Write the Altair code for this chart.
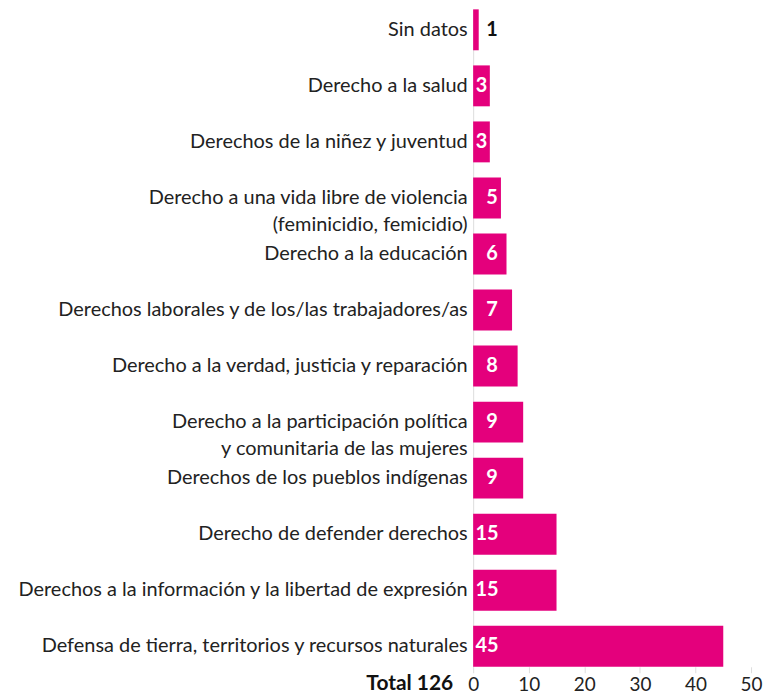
import altair as alt
import pandas as pd

categories = [
    "Sin datos",
    "Derecho a la salud",
    "Derechos de la niñez y juventud",
    "Derecho a una vida libre de violencia|(feminicidio, femicidio)",
    "Derecho a la educación",
    "Derechos laborales y de los/las trabajadores/as",
    "Derecho a la verdad, justicia y reparación",
    "Derecho a la participación política|y comunitaria de las mujeres",
    "Derechos de los pueblos indígenas",
    "Derecho de defender derechos",
    "Derechos a la información y la libertad de expresión",
    "Defensa de tierra, territorios y recursos naturales",
]
values = [1, 3, 3, 5, 6, 7, 8, 9, 9, 15, 15, 45]
x_ticks = [0, 10, 20, 30, 40, 50]
total_label = "Total 126"

df = pd.DataFrame({"cat": categories, "v": values})

FONT = "Lato"
PINK = "#E4007C"
H = 660
W = 279
LEFT = 467

y_enc = alt.Y(
    "cat:N",
    sort=categories,
    title=None,
    scale=alt.Scale(paddingInner=0.27, paddingOuter=0.0),
    axis=alt.Axis(
        labelExpr="split(datum.label, '|')",
        labelFont=FONT,
        labelFontSize=20,
        labelColor="#222",
        labelPadding=6,
        labelLimit=600,
        ticks=False,
        domain=True,
        domainColor="#dddddd",
        labelLineHeight=27,
    ),
)

bars = alt.Chart(df).mark_bar(color=PINK).encode(
    x=alt.X(
        "v:Q",
        title=None,
        scale=alt.Scale(domain=[0, 50], nice=False),
        axis=alt.Axis(
            values=x_ticks,
            grid=False,
            domain=False,
            tickColor="#dddddd",
            tickSize=6,
            labelFont=FONT,
            labelFontSize=19,
            labelColor="#222",
            labelPadding=3,
            labelFlush=False,
        ),
    ),
    y=y_enc,
)

labels = alt.Chart(df).transform_calculate(
    pos="datum.v >= 10 ? 2.5 : (datum.v >= 2 && datum.v < 4 ? datum.v / 2 : 3.4)",
    inside="datum.v >= 2 ? 'in' : 'out'",
).mark_text(font=FONT, fontSize=20, fontWeight="bold", align="center", baseline="middle").encode(
    x=alt.X("pos:Q"),
    y=alt.Y("cat:N", sort=categories),
    text=alt.Text("v:Q"),
    color=alt.Color(
        "inside:N",
        scale=alt.Scale(domain=["in", "out"], range=["#ffffff", "#111111"]),
        legend=None,
    ),
)

total = alt.Chart(pd.DataFrame({"t": [total_label]})).mark_text(
    font=FONT, fontSize=21, fontWeight="bold", align="right", baseline="middle", color="#111"
).encode(
    text="t:N",
    x=alt.value(-20),
    y=alt.value(H + 17),
)

chart = alt.layer(bars, labels, total).properties(
    width=W,
    height=H,
    autosize=alt.AutoSizeParams(type="none"),
    padding={"left": LEFT, "top": 0, "right": 14, "bottom": 28},
).configure_view(stroke=None)

chart.save("out.html", embed_options={"renderer": "svg", "actions": False})
